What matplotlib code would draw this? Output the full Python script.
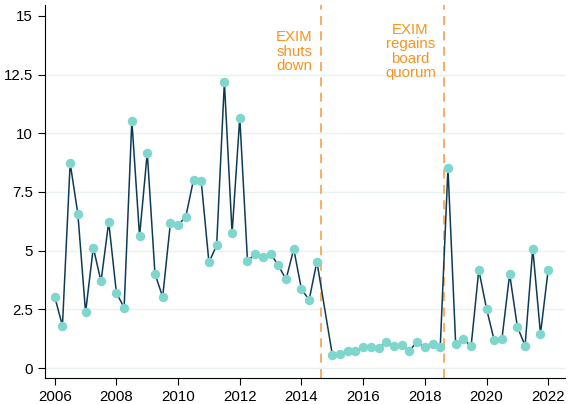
import matplotlib
matplotlib.use("Agg")
import matplotlib.pyplot as plt

plt.rcParams['font.family'] = ['Liberation Sans', 'DejaVu Sans']

# quarterly observations (2014 Q4 is not in the series)
quarters = [
    2006.0, 2006.25, 2006.5, 2006.75, 2007.0, 2007.25, 2007.5, 2007.75,
    2008.0, 2008.25, 2008.5, 2008.75, 2009.0, 2009.25, 2009.5, 2009.75,
    2010.0, 2010.25, 2010.5, 2010.75, 2011.0, 2011.25, 2011.5, 2011.75,
    2012.0, 2012.25, 2012.5, 2012.75, 2013.0, 2013.25, 2013.5, 2013.75,
    2014.0, 2014.25, 2014.5,
    2015.0, 2015.25, 2015.5, 2015.75, 2016.0, 2016.25, 2016.5, 2016.75,
    2017.0, 2017.25, 2017.5, 2017.75, 2018.0, 2018.25, 2018.5, 2018.75,
    2019.0, 2019.25, 2019.5, 2019.75, 2020.0, 2020.25, 2020.5, 2020.75,
    2021.0, 2021.25, 2021.5, 2021.75, 2022.0,
]
values = [
    3.03, 1.80, 8.73, 6.56, 2.37, 5.13, 3.69, 6.22,
    3.20, 2.57, 10.54, 5.62, 9.17, 4.01, 3.03, 6.18,
    6.08, 6.45, 8.02, 7.95, 4.50, 5.23, 12.19, 5.74,
    10.67, 4.56, 4.86, 4.74, 4.87, 4.37, 3.78, 5.07,
    3.35, 2.91, 4.53,
    0.57, 0.58, 0.72, 0.71, 0.89, 0.89, 0.84, 1.12,
    0.95, 0.99, 0.74, 1.12, 0.88, 1.04, 0.90, 8.52,
    1.02, 1.24, 0.92, 4.18, 2.53, 1.18, 1.24, 4.00,
    1.76, 0.95, 5.08, 1.46, 4.19,
]

events = [2014.625, 2018.625]
event_labels = ["EXIM\nshuts\ndown", "EXIM\nregains\nboard\nquorum"]

x_ticks = [2006, 2008, 2010, 2012, 2014, 2016, 2018, 2020, 2022]
y_ticks = [0, 2.5, 5, 7.5, 10, 12.5, 15]
y_tick_labels = ["0", "2.5", "5", "7.5", "10", "12.5", "15"]

fig = plt.figure(figsize=(5.68, 4.04), dpi=100)
ax = fig.add_axes([0.079, 0.064, 0.916, 0.924])

for y in y_ticks[:-1]:
    ax.axhline(y, color='#eaf1f3', lw=1.0, zorder=0)

ax.plot(quarters, values, color='#0d3b55', lw=1.1, zorder=2)
ax.plot(quarters, values, 'o', color='#7fd6cd', ms=6.8, mec='none', zorder=3)

for xe, lab in zip(events, event_labels):
    ax.axvline(xe, color='#f7a75a', lw=1.3, ls=(0, (5, 3.5)), zorder=1)
    ax.text(xe - 0.27, 13.48, lab, ha='right', va='center', multialignment='center',
            color='#f7941e', fontsize=10.8, linespacing=1.04)

ax.set_xlim(2005.68, 2022.55)
ax.set_ylim(-0.43, 15.47)
ax.set_xticks(x_ticks)
ax.set_yticks(y_ticks)
ax.set_yticklabels(y_tick_labels)
ax.tick_params(axis='both', direction='out', length=5, width=0.8, labelsize=10.8, colors='black')
ax.spines['top'].set_visible(False)
ax.spines['right'].set_visible(False)
ax.spines['left'].set_linewidth(0.8)
ax.spines['bottom'].set_linewidth(0.8)

fig.savefig('out.png', dpi=100)
